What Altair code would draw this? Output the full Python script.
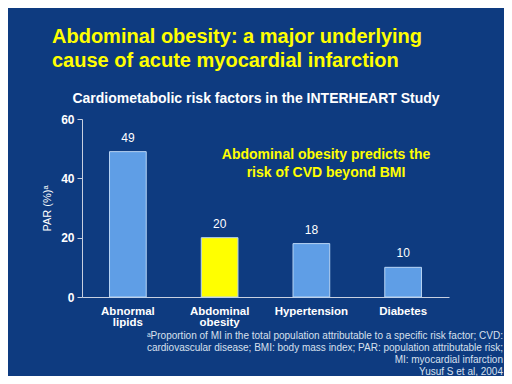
import altair as alt
import pandas as pd

categories = ["Abnormal lipids", "Abdominal obesity", "Hypertension", "Diabetes"]
values = [49, 20, 18, 10]
y_ticks = [0, 20, 40, 60]

title_text = "Abdominal obesity: a major underlying\ncause of acute myocardial infarction"
subtitle_text = "Cardiometabolic risk factors in the INTERHEART Study"
annotation_text = "Abdominal obesity predicts the\nrisk of CVD beyond BMI"
footnote_text = ("ᵃProportion of MI in the total population attributable to a specific risk factor; CVD:\n"
                 "cardiovascular disease; BMI: body mass index; PAR: population attributable risk;\n"
                 "MI: myocardial infarction\n"
                 "Yusuf S et al, 2004")

FONT = "Liberation Sans"
bar_colors = ["#5f9ee6", "#ffff00", "#5f9ee6", "#5f9ee6"]

df = pd.DataFrame({"category": categories, "par": values})
base = alt.Chart(df)

x = alt.X("category:N", sort=categories,
          scale=alt.Scale(paddingInner=0.6, paddingOuter=0.3),
          axis=alt.Axis(title=None, labelAngle=0, ticks=False,
                        labelExpr="split(datum.label, ' ')",
                        labelFontSize=11.5, labelFontWeight="bold",
                        labelPadding=8, labelLineHeight=11,
                        labelBaseline="top"))
y = alt.Y("par:Q", scale=alt.Scale(domain=[0, 60]),
          axis=alt.Axis(values=y_ticks, title="PAR (%)ᵃ", grid=False,
                        tickSize=5, labelFontSize=12, labelFontWeight="bold",
                        labelPadding=3, titleFontSize=11, titleFontWeight="normal",
                        titlePadding=8))

bars = base.mark_bar(stroke="#b8d4f4", strokeWidth=1).encode(
    x=x, y=y,
    color=alt.Color("category:N", scale=alt.Scale(domain=categories, range=bar_colors), legend=None),
)
labels = base.mark_text(baseline="alphabetic", dy=-10, color="white", fontSize=12, font=FONT).encode(
    x=x, y=y, text="par:Q"
)


def note(text, xpos, ypos, **kw):
    return alt.Chart(pd.DataFrame({"t": [text]})).mark_text(
        lineBreak="\n", font=FONT, baseline="alphabetic", **kw
    ).encode(x=alt.value(xpos), y=alt.value(ypos), text="t:N")


title = note(title_text, -30, -76, align="left", fontSize=20, fontWeight="bold",
             color="#ffff00", lineHeight=24)
subtitle = note(subtitle_text, 174, -16, align="center", fontSize=14, fontWeight="bold",
                color="white")
annotation = note(annotation_text, 244, 40, align="center", fontSize=14, fontWeight="bold",
                  color="#ffff00", lineHeight=18)
footnote = note(footnote_text, 421, 220, align="right", fontSize=10,
                color="#d8e0ee", lineHeight=12)

chart = alt.layer(bars, labels, title, subtitle, annotation, footnote).properties(
    width=367, height=178,
    autosize=alt.AutoSizeParams(type="none"),
    padding={"left": 74, "top": 111, "right": 55, "bottom": 79},
    background="#0e3b80",
).configure_view(stroke=None).configure_axis(
    domainColor="#c8d0e0", tickColor="#c8d0e0", labelColor="white",
    titleColor="white", labelFont=FONT, titleFont=FONT,
)

chart.save("out.html", embed_options={"renderer": "svg", "actions": False})
